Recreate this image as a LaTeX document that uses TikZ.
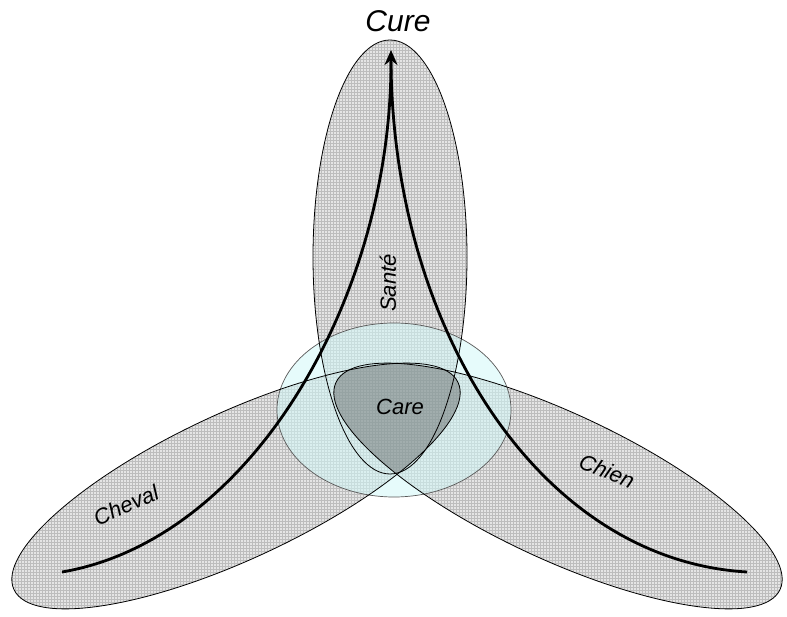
\documentclass[tikz,border=0pt]{standalone}
\usepackage{fontspec}
\newfontfamily\arialf{Liberation Sans}
\usetikzlibrary{patterns,arrows.meta}
\definecolor{ellfill}{gray}{0.9}
\definecolor{gridc}{gray}{0.74}
\definecolor{circfill}{RGB}{210,248,248}
\definecolor{circline}{gray}{0.35}
\definecolor{carefill}{gray}{0.3}
\begin{document}
\begin{tikzpicture}[x=1pt,y=-1pt,
  lobefill/.style={fill=ellfill},
  lobegrid/.style={pattern=grid, pattern color=gridc},
  lobeline/.style={draw=black, line width=0.8pt},
  flow/.style={line width=2.8pt, black},
  lbl/.style={font=\arialf\itshape\fontsize{22}{26}\selectfont, inner sep=0pt}]
\useasboundingbox (0,0) rectangle (787,617);
% fills
\fill[lobefill] (390,257) ellipse [x radius=77pt, y radius=217pt];
\fill[lobefill, rotate around={25:(236,486)}] (236,486) ellipse [x radius=245pt, y radius=73pt];
\fill[lobefill, rotate around={-25:(558,486)}] (558,486) ellipse [x radius=245pt, y radius=73pt];
\fill[lobegrid] (390,257) ellipse [x radius=77pt, y radius=217pt];
\fill[lobegrid, rotate around={25:(236,486)}] (236,486) ellipse [x radius=245pt, y radius=73pt];
\fill[lobegrid, rotate around={-25:(558,486)}] (558,486) ellipse [x radius=245pt, y radius=73pt];
% central circle
\fill[circfill, opacity=0.55] (394,410) ellipse [x radius=117pt, y radius=87pt];
\draw[circline, line width=0.7pt] (394,410) ellipse [x radius=117pt, y radius=87pt];
% care region
\begin{scope}
\clip[rotate around={25:(236,486)}] (236,486) ellipse [x radius=245pt, y radius=73pt];
\fill[carefill, opacity=0.4, rotate around={-25:(558,486)}] (558,486) ellipse [x radius=245pt, y radius=73pt];
\end{scope}
% outlines
\draw[lobeline] (390,257) ellipse [x radius=77pt, y radius=217pt];
\draw[lobeline, rotate around={25:(236,486)}] (236,486) ellipse [x radius=245pt, y radius=73pt];
\draw[lobeline, rotate around={-25:(558,486)}] (558,486) ellipse [x radius=245pt, y radius=73pt];
% flows
\coordinate (leftEnd) at (62,572);
\coordinate (rightEnd) at (747,572);
\coordinate (joinL) at (391,62);
\coordinate (apex) at (391,50);
\draw[flow] (leftEnd) .. controls (250,540) and (391,300) .. (joinL);
\draw[flow, -{Stealth[length=15pt,width=13pt]}] (rightEnd) .. controls (540,560) and (393,330) .. (joinL) -- (apex);
% labels
\node[lbl, font=\arialf\itshape\fontsize{30}{34}\selectfont] (cure) at (398,21) {Cure};
\node[lbl, rotate=90] (santeL) at (388,283) {Santé};
\node[lbl] (care) at (400,407) {Care};
\node[lbl, rotate=24] (chevalL) at (126,505) {Cheval};
\node[lbl, rotate=-23] (chienL) at (607,471) {Chien};
\end{tikzpicture}
\end{document}
